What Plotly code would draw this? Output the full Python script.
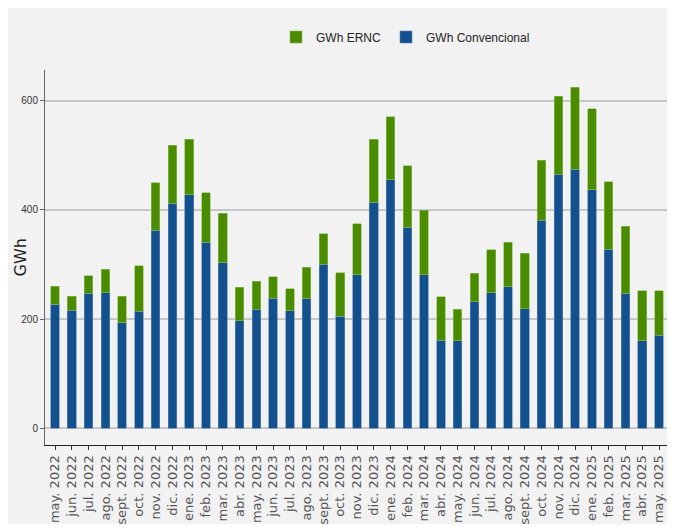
import plotly.graph_objects as go

months = ["may. 2022", "jun. 2022", "jul. 2022", "ago. 2022", "sept. 2022", "oct. 2022",
          "nov. 2022", "dic. 2022", "ene. 2023", "feb. 2023", "mar. 2023", "abr. 2023",
          "may. 2023", "jun. 2023", "jul. 2023", "ago. 2023", "sept. 2023", "oct. 2023",
          "nov. 2023", "dic. 2023", "ene. 2024", "feb. 2024", "mar. 2024", "abr. 2024",
          "may. 2024", "jun. 2024", "jul. 2024", "ago. 2024", "sept. 2024", "oct. 2024",
          "nov. 2024", "dic. 2024", "ene. 2025", "feb. 2025", "mar. 2025", "abr. 2025",
          "may. 2025"]

gwh_convencional = [227, 216, 247, 248, 193, 214, 363, 412, 428, 341, 303, 197,
                    218, 238, 215, 237, 300, 205, 281, 414, 455, 368, 281, 161,
                    160, 232, 248, 259, 219, 381, 465, 474, 437, 328, 247, 160,
                    170]

gwh_ernc = [33, 26, 32, 43, 49, 84, 87, 106, 101, 90, 91, 61,
            51, 40, 41, 58, 56, 80, 94, 115, 116, 113, 118, 80,
            58, 52, 79, 82, 102, 110, 143, 151, 148, 124, 123, 92,
            82]

y_ticks = [0, 200, 400, 600]

BLUE = "#12508e"
GREEN = "#4b8b00"
BG = "#f2f2f2"
NARROW = "Liberation Sans Narrow, Arial Narrow, Liberation Sans, Arial, sans-serif"

fig = go.Figure()
fig.add_trace(go.Bar(x=months, y=gwh_convencional, name="GWh Convencional",
                     marker=dict(color=BLUE, line=dict(color="#5f86b3", width=0.6))))
fig.add_trace(go.Bar(x=months, y=gwh_ernc, name="GWh ERNC",
                     marker=dict(color=GREEN, line=dict(color="#8fbf5a", width=0.6))))

# the page body adds an 8px offset; the figure fills the visible rest of the window
W, H = 659, 516
L, R, T, B = 37, 0, 62, 79
pw, ph = W - L - R, H - T - B

fig.update_layout(
    width=W, height=H,
    barmode="stack", bargap=0.484,
    paper_bgcolor=BG, plot_bgcolor=BG,
    margin=dict(l=L, r=R, t=T, b=B, pad=0, autoexpand=False),
    showlegend=True,
    legend=dict(orientation="h", traceorder="reversed",
                x=(268 - L) / pw, xanchor="left",
                y=1 + (T - 29) / ph, yanchor="middle",
                font=dict(family=NARROW, size=12, color="#222222"),
                bgcolor="rgba(0,0,0,0)", itemwidth=30),
    xaxis=dict(type="category", range=[-0.596, 36.477], automargin=False,
               tickmode="array", tickvals=months, ticktext=months,
               tickangle=-90, ticks="outside", ticklen=4, tickcolor="#333333",
               showline=True, linecolor="#222222", linewidth=1.2,
               showgrid=False,
               tickfont=dict(family="DejaVu Sans", size=13, color="#555555")),
    yaxis=dict(range=[-30.6, 656.2], tickvals=y_ticks, automargin=False,
               ticks="outside", ticklen=4, tickcolor="#666666",
               showline=True, linecolor="#666666", linewidth=1,
               showgrid=True, gridcolor="#c6c6c6", gridwidth=1.5,
               zeroline=False,
               tickfont=dict(family=NARROW, size=10, color="#333333")),
    annotations=[
        dict(text="GWh", textangle=-90, xref="paper", yref="paper",
             x=(12 - L) / pw, y=0.5, xanchor="center", yanchor="middle",
             showarrow=False,
             font=dict(family="DejaVu Sans", size=16, color="#222222")),
    ],
)

fig.write_html("out.html")
